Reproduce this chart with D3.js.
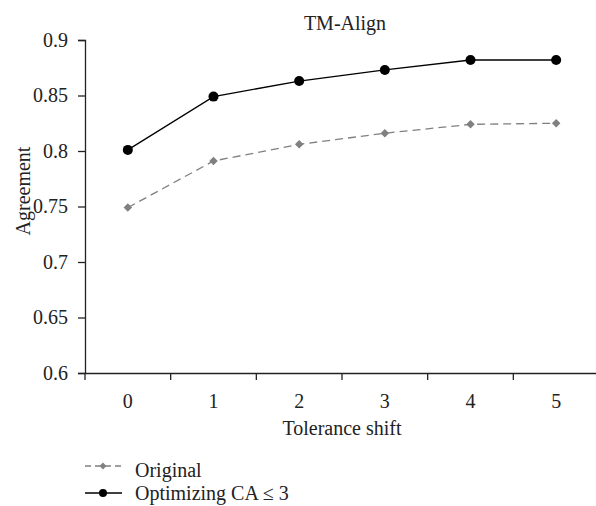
<!DOCTYPE html>
<html>
<head>
<meta charset="utf-8">
<script src="https://cdn.jsdelivr.net/npm/d3@7"></script>
<style>
  body { margin: 0; background: #fff; }
  text { font-family: "Liberation Serif", "DejaVu Serif", serif; fill: #222; }
</style>
</head>
<body>
<svg width="596" height="506"></svg>
<script>
// data
var shifts = ["0", "1", "2", "3", "4", "5"];
var original = [0.749, 0.791, 0.806, 0.816, 0.824, 0.825];
var optimizing = [0.801, 0.849, 0.863, 0.873, 0.882, 0.882];
var yTicks = [0.6, 0.65, 0.7, 0.75, 0.8, 0.85, 0.9];

let svg = d3.select("svg");
let fs = "20px";

let margin = { top: 40, left: 85 };
let plotWidth = 514;
let plotHeight = 333;

let xScale = d3.scaleBand()
  .domain(shifts)
  .range([0, plotWidth]);

let yScale = d3.scaleLinear()
  .domain([0.6, 0.9])
  .range([plotHeight, 0]);

let plot = svg.append("g")
  .attr("transform", "translate(" + margin.left + "," + margin.top + ")");

// y axis
let yAxis = d3.axisLeft(yScale).tickValues(yTicks).tickSize(7).tickPadding(10)
  .tickFormat(function(d) { return String(+d.toFixed(2)); });
let yGroup = plot.append("g").call(yAxis);
yGroup.select(".domain").attr("stroke", "#222").attr("stroke-width", 1.3);
yGroup.selectAll(".tick line").attr("stroke", "#222").attr("stroke-width", 1.3);
yGroup.selectAll(".tick text").style("font-size", fs)
  .style("font-family", "Liberation Serif, serif").attr("fill", "#222");

// x axis: ticks at band boundaries
let xAxis = d3.axisBottom(xScale).tickSize(0).tickPadding(21);
let xGroup = plot.append("g")
  .attr("transform", "translate(0," + plotHeight + ")")
  .call(xAxis);
xGroup.select(".domain").attr("stroke", "#222").attr("stroke-width", 1.3);
xGroup.selectAll(".tick text").style("font-size", fs)
  .style("font-family", "Liberation Serif, serif").attr("fill", "#222");
xGroup.selectAll("line.bound")
  .data(shifts)
  .enter().append("line")
  .attr("class", "bound")
  .attr("x1", function(d) { return xScale(d); })
  .attr("x2", function(d) { return xScale(d); })
  .attr("y1", 0).attr("y2", 7)
  .attr("stroke", "#222").attr("stroke-width", 1.3);

let cx = function(d, i) { return xScale(shifts[i]) + xScale.bandwidth() / 2; };

// original series: gray dashed with diamonds
let line = d3.line()
  .x(function(d, i) { return cx(d, i); })
  .y(function(d) { return yScale(d); });

plot.append("path")
  .datum(original)
  .attr("d", line)
  .attr("fill", "none")
  .attr("stroke", "#808080")
  .attr("stroke-width", 1.3)
  .attr("stroke-dasharray", "8,5");

let diamond = d3.symbol().type(d3.symbolDiamond2).size(46);
plot.selectAll("path.orig")
  .data(original)
  .enter().append("path")
  .attr("class", "orig")
  .attr("d", diamond)
  .attr("transform", function(d, i) { return "translate(" + cx(d, i) + "," + yScale(d) + ")"; })
  .attr("fill", "#808080");

// optimizing series: black solid with circles
plot.append("path")
  .datum(optimizing)
  .attr("d", line)
  .attr("fill", "none")
  .attr("stroke", "#000")
  .attr("stroke-width", 1.3);

plot.selectAll("circle.opt")
  .data(optimizing)
  .enter().append("circle")
  .attr("class", "opt")
  .attr("cx", function(d, i) { return cx(d, i); })
  .attr("cy", function(d) { return yScale(d); })
  .attr("r", 5)
  .attr("fill", "#000");

// titles
svg.append("text")
  .attr("x", 345)
  .attr("y", 30)
  .attr("text-anchor", "middle")
  .style("font-size", fs)
  .text("TM-Align");

svg.append("text")
  .attr("x", 342)
  .attr("y", 435)
  .attr("text-anchor", "middle")
  .style("font-size", fs)
  .text("Tolerance shift");

svg.append("text")
  .attr("transform", "translate(30,191) rotate(-90)")
  .attr("text-anchor", "middle")
  .style("font-size", fs)
  .text("Agreement");

// legend
let legendDiamond = d3.symbol().type(d3.symbolDiamond2).size(30);
let legend = svg.append("g").attr("transform", "translate(85,466)");
legend.append("line")
  .attr("x1", 0).attr("x2", 37).attr("y1", 0).attr("y2", 0)
  .attr("stroke", "#808080").attr("stroke-width", 1.3).attr("stroke-dasharray", "6,4");
legend.append("path")
  .attr("d", legendDiamond)
  .attr("transform", "translate(18,0)")
  .attr("fill", "#808080");
legend.append("text").attr("x", 50).attr("y", 11)
  .style("font-size", fs).text("Original");

legend.append("line")
  .attr("x1", 0).attr("x2", 37).attr("y1", 27).attr("y2", 27)
  .attr("stroke", "#000").attr("stroke-width", 1.3);
legend.append("circle")
  .attr("cx", 18).attr("cy", 27).attr("r", 4).attr("fill", "#000");
legend.append("text").attr("x", 50).attr("y", 34)
  .style("font-size", fs).text("Optimizing CA \u2264 3");
</script>
</body>
</html>
